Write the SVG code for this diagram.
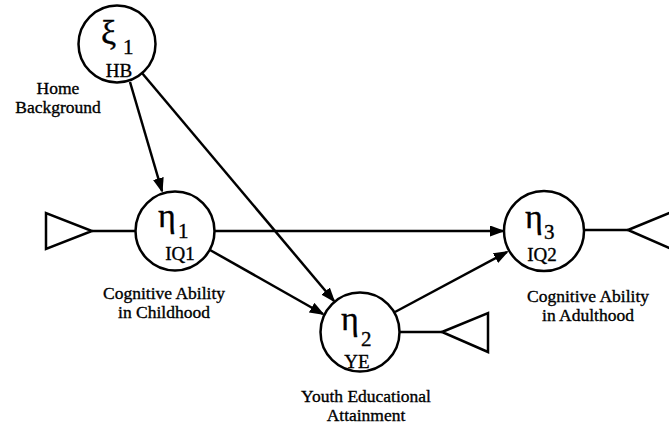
<svg xmlns="http://www.w3.org/2000/svg" width="669" height="429" viewBox="0 0 669 429">
<style>
.c{fill:#fff;stroke:#000;stroke-width:2.5}
.ln{fill:none;stroke:#000;stroke-width:2.5}
.tri{fill:none;stroke:#000;stroke-width:2.5;stroke-linejoin:miter}
text{font-family:"Liberation Serif","Times New Roman",serif;fill:#000;stroke:#000;stroke-width:0.35}
.g{font-size:34px}
.s{font-size:21px}
.n{font-size:19px;text-anchor:middle}
.lab{font-size:17.5px;text-anchor:middle}
</style>
<defs>
<marker id="ah" markerUnits="userSpaceOnUse" markerWidth="15" markerHeight="11" refX="13" refY="5.5" orient="auto">
<path d="M0,0 L15,5.5 L0,11 z" fill="#000"/>
</marker>
</defs>
<g id="connectors">
<line class="ln" x1="130" y1="82" x2="162" y2="191" marker-end="url(#ah)"/>
<line class="ln" x1="142" y1="73" x2="334" y2="301" marker-end="url(#ah)"/>
<line class="ln" x1="215" y1="231" x2="503" y2="231" marker-end="url(#ah)"/>
<line class="ln" x1="210" y1="250" x2="323" y2="314" marker-end="url(#ah)"/>
<line class="ln" x1="395" y1="312" x2="507" y2="252" marker-end="url(#ah)"/>
<line class="ln" x1="92" y1="231" x2="136" y2="231"/>
<line class="ln" x1="400" y1="332" x2="442" y2="332"/>
<line class="ln" x1="584" y1="230" x2="628" y2="230"/>
</g>
<g id="err1"><polygon class="tri" points="46,213 46,249 92,231"/></g>
<g id="err2"><polygon class="tri" points="442,332 488,313 488,352"/></g>
<g id="err3"><polygon class="tri" points="628,230 674,211 674,250"/></g>
<g id="xi1">
<circle class="c" cx="117" cy="44" r="38.5"/>
<text class="g" x="101" y="44">ξ</text>
<text class="s" x="123" y="54">1</text>
<text class="n" x="119" y="77">HB</text>
<text class="lab" x="58" y="94">Home</text>
<text class="lab" x="58" y="113">Background</text>
</g>
<g id="eta1">
<circle class="c" cx="175" cy="231" r="39.5"/>
<text class="g" x="158" y="227">η</text>
<text class="s" x="178" y="238">1</text>
<text class="n" x="180" y="260">IQ1</text>
<text class="lab" x="164" y="299">Cognitive Ability</text>
<text class="lab" x="164" y="318">in Childhood</text>
</g>
<g id="eta2">
<circle class="c" cx="360" cy="332" r="39.5"/>
<text class="g" x="341" y="330">η</text>
<text class="s" x="361" y="346">2</text>
<text class="n" x="357" y="368">YE</text>
<text class="lab" x="366" y="402">Youth Educational</text>
<text class="lab" x="366" y="421">Attainment</text>
</g>
<g id="eta3">
<circle class="c" cx="544" cy="231" r="40"/>
<text class="g" x="525" y="228">η</text>
<text class="s" x="544" y="239">3</text>
<text class="n" x="542" y="261">IQ2</text>
<text class="lab" x="588" y="302">Cognitive Ability</text>
<text class="lab" x="588" y="321">in Adulthood</text>
</g>
</svg>
